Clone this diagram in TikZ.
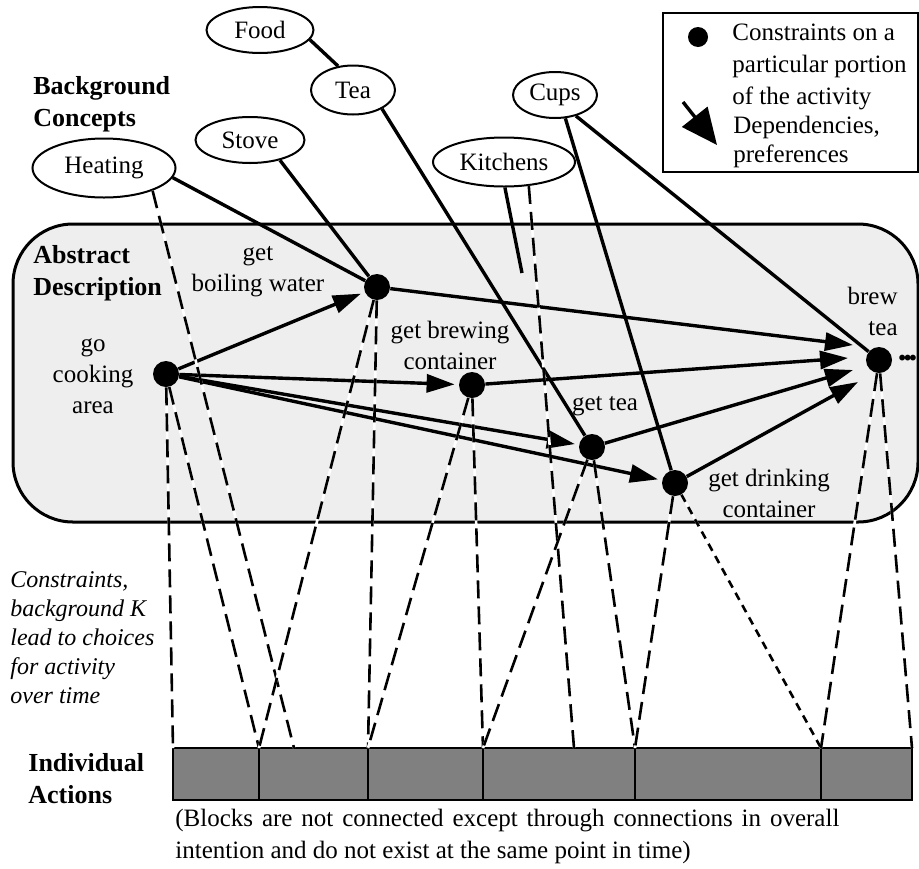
\documentclass[tikz,border=0pt]{standalone}
\usepackage{fontspec}
\setmainfont{Liberation Serif}
\newfontfamily\symfont{DejaVu Sans}
\usepackage{tikz}
\usetikzlibrary{shapes.geometric, arrows.meta, positioning, calc}
\definecolor{panelgray}{RGB}{238,238,238}
\definecolor{blockgray}{RGB}{128,128,128}
\tikzset{
  concept/.style={ellipse, draw, line width=1pt, fill=white, inner sep=0pt},
  stepdot/.style={circle, fill=black, inner sep=0pt, minimum size=13pt},
  steplabel/.style={align=center, inner sep=0pt},
  heading/.style={align=left, inner sep=0pt, anchor=west, font=\fontsize{13}{16}\selectfont\bfseries},
  cell/.style={rectangle, draw, line width=1.2pt, fill=blockgray, minimum height=26pt, inner sep=0pt, outer sep=0pt},
  link/.style={line width=1.7pt},
  dep/.style={link, -{Triangle[length=14pt,width=9pt]}, shorten >=2pt},
  tie/.style={line width=1.3pt, dash pattern=on 9pt off 4pt, preaction={draw=white, solid, line width=1.3pt}},
  finetie/.style={tie, dash pattern=on 4pt off 3pt}
}

\begin{document}
\begin{tikzpicture}[x=0.5pt, y=-0.5pt, font=\fontsize{12.5}{15.5}\selectfont]
\useasboundingbox (0,0) rectangle (919,868);

% abstract description panel
\node[draw, line width=1.5pt, fill=panelgray, rounded corners=30pt, minimum width=452.5pt, minimum height=149pt, inner sep=0pt] (panel) at (465.5,373) {};

% headings
\node[heading] (bgtitle) at (33,104) {Background\\Concepts};
\node[heading] (abtitle) at (33,273) {Abstract\\Description};
\node[heading] (indtitle) at (28,779) {Individual\\Actions};
\node[anchor=west, align=left, inner sep=0pt, font=\fontsize{12}{14.5}\selectfont\itshape] (note) at (10,638) {Constraints,\\background K\\lead to choices\\for activity\\over time};
\node[anchor=west, align=left, inner sep=0pt, font=\fontsize{12.5}{16}\selectfont] (caption) at (175,836) {\makebox[332pt][s]{(Blocks are not connected except through connections in overall}\\intention and do not exist at the same point in time)};

% legend
\node[draw, line width=1pt, minimum width=127.5pt, minimum height=79.5pt, inner sep=0pt] (legend) at (790.5,92.5) {};
\node[stepdot, minimum size=10pt] (ldot) at (698,37) {};
\node[anchor=west, align=left, inner sep=0pt, font=\fontsize{12.5}{16}\selectfont] (ltext) at (732,67) {Constraints on a\\particular portion\\of the activity};
\node[anchor=west, align=left, inner sep=0pt, font=\fontsize{12.5}{14.5}\selectfont] (ldep) at (733,142) {Dependencies,\\preferences};
\coordinate (ltail) at (683,102);
\coordinate (lhead) at (717,145);
\draw[link, -{Triangle[length=18pt,width=16pt]}] (ltail) -- (lhead);

% background concepts
\node[concept, minimum width=53.5pt, minimum height=23pt] (food) at (260,30) {Food};
\node[concept, minimum width=42pt, minimum height=24.5pt] (tea) at (353,90) {Tea};
\node[concept, minimum width=54.5pt, minimum height=23pt] (stove) at (250,140) {Stove};
\node[concept, minimum width=71.5pt, minimum height=29.5pt] (heat) at (104,168) {Heating};
\node[concept, minimum width=71pt, minimum height=24.5pt] (kitch) at (504,162) {Kitchens};
\node[concept, minimum width=42pt, minimum height=23pt] (cups) at (555,95) {Cups};

% activity steps
\node[stepdot] (go) at (166,374) {};
\node[stepdot] (boil) at (377,287) {};
\node[stepdot] (brewc) at (472,385) {};
\node[stepdot] (gettea) at (592,447) {};
\node[stepdot] (drink) at (675,483) {};
\node[stepdot] (brew) at (879,360) {};
\node[steplabel] (golab) at (93,376) {go\\cooking\\area};
\node[steplabel] (boillab) at (258,272) {get\\boiling water};
\node[steplabel] (brewclab) at (450,345) {get brewing\\container};
\node[steplabel] (gettealab) at (605,406) {get tea};
\node[steplabel] (drinklab) at (769,493) {get drinking\\container};
\node[steplabel, align=right, anchor=east] (brewlab) at (898,311) {brew\\tea};
\node[anchor=west, inner sep=0pt, font=\symfont\fontsize{10}{10}\selectfont] (more) at (896,360) {•\kern-3.2pt•\kern-3.2pt•};

% individual action blocks
\node[cell, minimum width=43pt, anchor=north west] (a1) at (173,748) {};
\node[cell, minimum width=54.5pt, right=0pt of a1] (a2) {};
\node[cell, minimum width=57.5pt, right=0pt of a2] (a3) {};
\node[cell, minimum width=76pt, right=0pt of a3] (a4) {};
\node[cell, minimum width=93pt, right=0pt of a4] (a5) {};
\node[cell, minimum width=45.5pt, right=0pt of a5] (a6) {};
\coordinate (heatfoot) at (294,748);
\coordinate (kitfoot) at (574,748);
\coordinate (kitend) at (522,273);

% concept links
\draw[link] (food.-11) -- (tea.122);
\draw[link] (heat.-8) -- (boil);
\draw[link] (stove.-34) -- (boil);
\draw[link] (tea.-33) -- (gettea);
\draw[link] (kitch.-88) -- (kitend);
\draw[link] (cups.-66) -- (drink);
\draw[link] (cups.-45) -- (brew);

% dependencies
\draw[dep] (go) -- (boil);
\draw[dep] (go) -- (brewc);
\draw[dep] (go) -- (gettea);
\draw[dep] (go) -- (drink);
\draw[dep, shorten >=0pt] (boil) -- ([shift={(-26,-15)}]brew.center);
\draw[dep, shorten >=0pt] (brewc) -- ([shift={(-31,-2)}]brew.center);
\draw[dep, shorten >=0pt] (gettea) -- ([shift={(-26,10)}]brew.center);
\draw[dep, shorten >=0pt] (drink) -- ([shift={(-21,22)}]brew.center);

% ties down to the actions
\draw[tie] (go) -- (a1.north west);
\draw[tie] (go) -- (a2.north west);
\draw[tie] (heat.-25) -- (heatfoot);
\draw[tie] (boil) -- (a2.north west);
\draw[tie] (boil) -- (a3.north west);
\draw[tie] (brewc) -- (a3.north west);
\draw[tie] (brewc) -- (a4.north west);
\draw[tie] (kitch.-44) -- (kitfoot);
\draw[tie] (gettea) -- (a4.north west);
\draw[tie] (gettea) -- (a5.north west);
\draw[tie] (drink) -- (a5.north west);
\draw[finetie] (drink) -- (a6.north west);
\draw[tie] (brew) -- (a6.north west);
\draw[tie] (brew) -- (a6.north east);
\end{tikzpicture}
\end{document}
